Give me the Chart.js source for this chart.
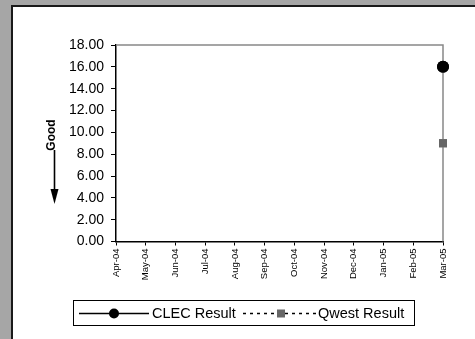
<!DOCTYPE html>
<html>
<head>
<meta charset="utf-8">
<script src="https://cdn.jsdelivr.net/npm/chart.js@4/dist/chart.umd.min.js"></script>
<style>
  html, body { margin: 0; padding: 0; }
  body { width: 475px; height: 339px; background: #a6a6a6; position: relative; overflow: hidden; font-family: "Liberation Sans", Arial, sans-serif; }
  #panel { position: absolute; left: 11px; top: 5px; width: 470px; height: 340px; background: #fff; border-left: 2px solid #1a1a1a; border-top: 2px solid #1a1a1a; }
  #wrap { position: absolute; left: 0; top: 0; width: 475px; height: 339px; }
  #legend { position: absolute; left: 73px; top: 300px; width: 340px; height: 24px; border: 1px solid #000; background: #fff; }
  .item { position: absolute; top: 0; height: 24px; line-height: 24px; font-size: 14.5px; color: #000; white-space: nowrap; }
</style>
</head>
<body>
<div id="panel"></div>
<div id="wrap"><canvas id="c" width="475" height="339"></canvas></div>
<div id="legend">
  <canvas id="lg" width="340" height="24" style="position:absolute;left:0;top:0"></canvas>
  <span class="item" id="t1" style="left:78px">CLEC Result</span>
  <span class="item" id="t2" style="left:244px">Qwest Result</span>
</div>
<script>
const categories = ["Apr-04","May-04","Jun-04","Jul-04","Aug-04","Sep-04","Oct-04","Nov-04","Dec-04","Jan-05","Feb-05","Mar-05"];
const clecResult  = [null,null,null,null,null,null,null,null,null,null,null,16.0];
const qwestResult = [null,null,null,null,null,null,null,null,null,null,null,9.0];
const yTicks = { min: 0, max: 18, step: 2 };
const seriesNames = ["CLEC Result", "Qwest Result"];

const FONT = "'Liberation Sans', Arial, sans-serif";

const framePlugin = {
  id: 'frame',
  afterDraw(chart) {
    const { ctx, chartArea: a } = chart;
    ctx.save();
    ctx.strokeStyle = '#888';
    ctx.lineWidth = 1.5;
    ctx.beginPath();
    ctx.moveTo(a.left, a.top);
    ctx.lineTo(a.right, a.top);
    ctx.lineTo(a.right, a.bottom);
    ctx.stroke();
    // "Good" label with arrow
    ctx.fillStyle = '#000';
    ctx.font = "bold 12px " + FONT;
    ctx.translate(52, 135);
    ctx.rotate(-Math.PI / 2);
    ctx.textAlign = 'center';
    ctx.textBaseline = 'middle';
    ctx.fillText('Good', 0, 0);
    ctx.restore();
    ctx.save();
    ctx.strokeStyle = '#000';
    ctx.fillStyle = '#000';
    ctx.lineWidth = 1.6;
    ctx.beginPath();
    ctx.moveTo(54.5, 150);
    ctx.lineTo(54.5, 192);
    ctx.stroke();
    ctx.beginPath();
    ctx.moveTo(50.5, 189);
    ctx.lineTo(58.5, 189);
    ctx.lineTo(54.5, 204);
    ctx.closePath();
    ctx.fill();
    ctx.restore();
    // redraw points above frame
    chart.data.datasets.forEach((ds, i) => {
      const meta = chart.getDatasetMeta(i);
      meta.data.forEach(p => { if (!p.skip) p.draw(ctx, null); });
    });
  }
};

new Chart(document.getElementById('c'), {
  type: 'line',
  data: {
    labels: categories,
    datasets: [
      { label: seriesNames[0], data: clecResult, borderColor: '#000', backgroundColor: '#000', borderWidth: 1.5,
        pointStyle: 'circle', pointRadius: 6, pointBorderWidth: 0, pointBackgroundColor: '#000', pointBorderColor: '#000', clip: false },
      { label: seriesNames[1], data: qwestResult, borderColor: '#000', borderDash: [4, 4], backgroundColor: '#666', borderWidth: 1.5,
        pointStyle: 'rect', pointRadius: 5.7, pointBackgroundColor: '#666', pointBorderColor: '#666', pointBorderWidth: 0, clip: false }
    ]
  },
  options: {
    responsive: false,
    animation: false,
    events: [],
    layout: { padding: { left: 0, right: 32, top: 45, bottom: 0 } },
    plugins: { legend: { display: false }, tooltip: { enabled: false } },
    scales: {
      x: {
        offset: false,
        afterFit(s) { s.height = 97.5; },
        grid: { display: true, drawOnChartArea: false, drawTicks: true, tickLength: 4, color: '#000', lineWidth: 1 },
        border: { display: true, color: '#000', width: 1.5 },
        ticks: { autoSkip: false, minRotation: 90, maxRotation: 90, padding: 3, color: '#000', font: { family: FONT, size: 9.5 } }
      },
      y: {
        min: yTicks.min, max: yTicks.max,
        afterFit(s) { s.width = 116; },
        afterBuildTicks(s) {
          const t = [];
          for (let v = yTicks.min; v <= yTicks.max; v += yTicks.step) t.push({ value: v });
          s.ticks = t;
        },
        grid: { display: true, drawOnChartArea: false, drawTicks: true, tickLength: 5, color: '#000', lineWidth: 1 },
        border: { display: true, color: '#000', width: 1.5 },
        ticks: { padding: 7, color: '#000', font: { family: FONT, size: 14 }, callback: v => Number(v).toFixed(2) }
      }
    }
  },
  plugins: [framePlugin]
});

// legend samples
const lg = document.getElementById('lg').getContext('2d');
lg.strokeStyle = '#000'; lg.lineWidth = 1.5;
lg.beginPath(); lg.moveTo(5, 12.5); lg.lineTo(75, 12.5); lg.stroke();
lg.fillStyle = '#000'; lg.beginPath(); lg.arc(40, 12.5, 5, 0, Math.PI * 2); lg.fill();
lg.setLineDash([3, 4]);
lg.beginPath(); lg.moveTo(169, 12.5); lg.lineTo(244, 12.5); lg.stroke();
lg.setLineDash([]);
lg.fillStyle = '#666'; lg.fillRect(203, 8.5, 8, 8);
</script>
</body>
</html>
